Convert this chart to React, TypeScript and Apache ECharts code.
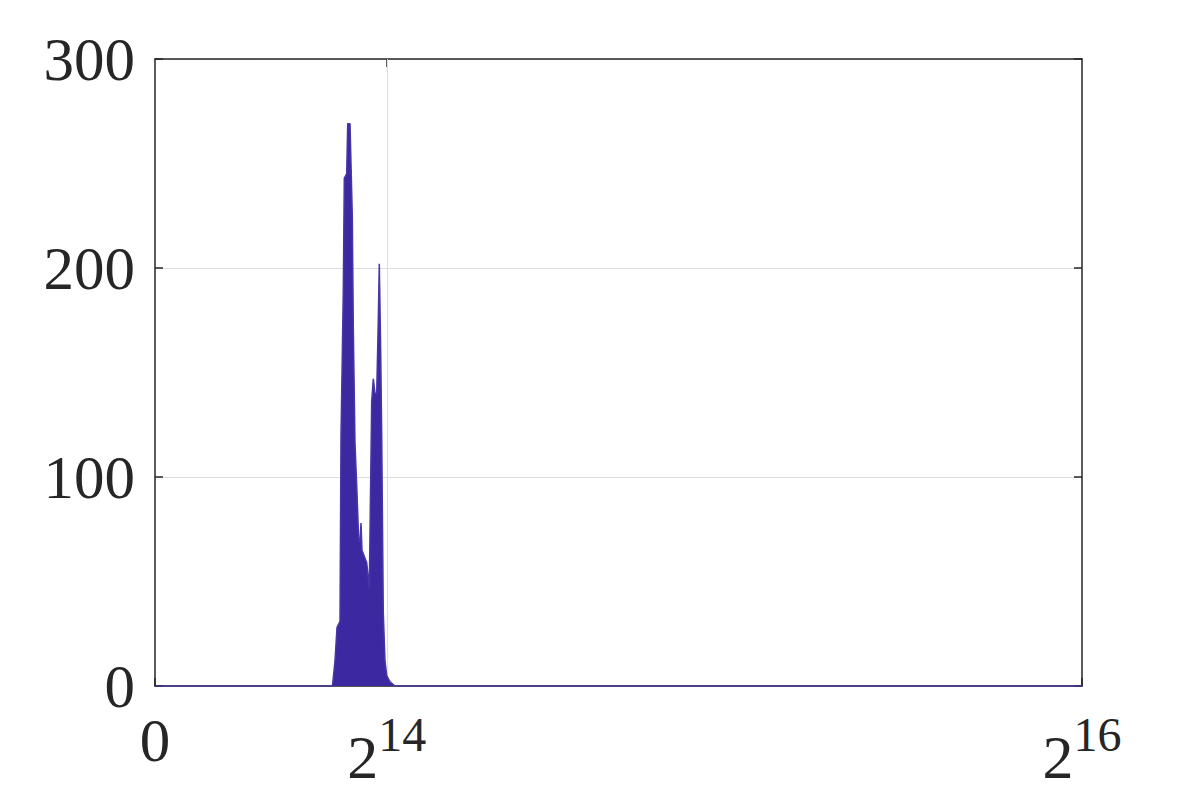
import React, { useEffect, useRef } from "react";
import * as echarts from "echarts";

// Pixel intensity (16-bit range) and histogram counts
const intensity = [0, 12548, 12725, 12866, 13079, 13150, 13199, 13312, 13383, 13552, 13623, 13786, 13948, 14019, 14139, 14259, 14401, 14492, 14563, 14634, 14966, 15150, 15320, 15433, 15553, 15673, 15786, 15857, 15956, 16027, 16139, 16260, 16380, 16613, 16967, 65536];
const counts = [0, 0, 12, 28, 31, 120, 140, 189, 243, 245, 269, 269, 225, 171, 116, 96, 70, 69, 78, 65, 59, 47, 136, 147, 140, 140, 175, 202, 160, 120, 35, 12, 5, 2, 0, 0];

const xTicks = [0, 16384, 65536];
const xTickLabels: Record<number, string> = { 0: "{z|0}", 16384: "{b|2}{s|14}", 65536: "{b|2}{s|16}" };
const yMax = 300;
const yStep = 100;

export default function App() {
  const ref = useRef<HTMLDivElement>(null);
  useEffect(() => {
    if (!ref.current) return;
    const chart = echarts.init(ref.current, undefined, { renderer: "svg" });
    const font = "Liberation Serif";
    const dark = "#262626";
    const grid = "#dedede";
    chart.setOption({
      animation: false,
      backgroundColor: "#ffffff",
      grid: { left: 155, right: 114, top: 59, bottom: 112 },
      xAxis: [
        {
          type: "value",
          min: 0,
          max: 65536,
          position: "bottom",
          axisLine: { show: true, onZero: false, lineStyle: { color: dark, width: 1.5 } },
          axisTick: { show: true, inside: true, length: 8, customValues: xTicks, lineStyle: { color: dark, width: 1.5 } },
          splitLine: { show: false },
          axisLabel: {
            show: true,
            customValues: xTicks,
            margin: 24,
            fontFamily: font,
            color: dark,
            formatter: (v: number) => xTickLabels[v] ?? "",
            rich: {
              z: { fontFamily: font, fontSize: 61, color: dark, lineHeight: 60, verticalAlign: "top" },
              b: { fontFamily: font, fontSize: 62, color: dark, lineHeight: 78, verticalAlign: "bottom" },
              s: { fontFamily: font, fontSize: 48, color: dark, lineHeight: 48, verticalAlign: "top" },
            },
          },
        },
        {
          type: "value",
          min: 0,
          max: 65536,
          position: "top",
          axisLine: { show: true, onZero: false, lineStyle: { color: dark, width: 1.5 } },
          axisTick: { show: true, inside: true, length: 8, customValues: [16384], lineStyle: { color: dark, width: 1.5 } },
          axisLabel: { show: false },
          splitLine: { show: false },
        },
      ],
      yAxis: [
        {
          type: "value",
          min: 0,
          max: yMax,
          interval: yStep,
          position: "left",
          axisLine: { show: true, onZero: false, lineStyle: { color: dark, width: 1.5 } },
          axisTick: { show: true, inside: true, length: 8, lineStyle: { color: dark, width: 1.5 } },
          splitLine: { show: true, lineStyle: { color: grid, width: 1 } },
          axisLabel: { margin: 20, fontFamily: font, fontSize: 61, color: dark },
        },
        {
          type: "value",
          min: 0,
          max: yMax,
          interval: yStep,
          position: "right",
          axisLine: { show: true, onZero: false, lineStyle: { color: dark, width: 1.5 } },
          axisTick: { show: true, inside: true, length: 8, lineStyle: { color: dark, width: 1.5 } },
          splitLine: { show: false },
          axisLabel: { show: false },
        },
      ],
      series: [
        {
          type: "line",
          xAxisIndex: 0,
          yAxisIndex: 0,
          data: intensity.map((x, i) => [x, counts[i]]),
          showSymbol: false,
          symbol: "none",
          lineStyle: { color: "#4636a6", width: 1.5 },
          areaStyle: { color: "#3c28a0", opacity: 1 },
          markLine: {
            silent: true,
            symbol: "none",
            label: { show: false },
            lineStyle: { color: grid, width: 1, type: "solid" },
            data: [{ xAxis: 16384 }],
            z: 1,
          },
        },
      ],
    });
    return () => chart.dispose();
  }, []);
  return <div ref={ref} style={{ position: "fixed", left: 0, top: 0, width: 1196, height: 798 }} />;
}
